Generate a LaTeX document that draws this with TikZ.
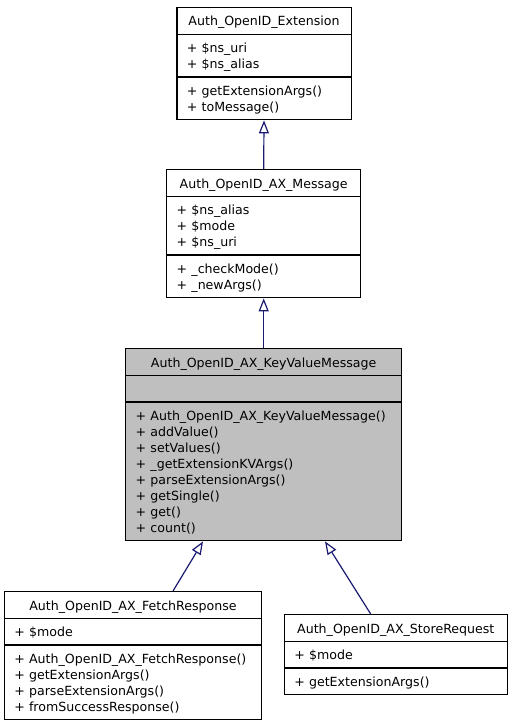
\documentclass[tikz,border=0pt]{standalone}
\usepackage{fontspec}
\setmainfont{DejaVu Sans}
\usepackage{tikz}
\usetikzlibrary{arrows.meta,calc,shapes.multipart}
\definecolor{edgeblue}{HTML}{191970}
\definecolor{kvgray}{HTML}{BFBFBF}
\newcommand{\ustrut}{\rule[-3pt]{0pt}{16pt}}
\newcommand{\uhead}[1]{\makebox[\linewidth]{\ustrut #1}}

\begin{document}
\begin{tikzpicture}[x=1pt,y=-1pt,
  umlclass/.style={rectangle split, rectangle split parts=3, draw, line width=1.3pt,
    anchor=north, inner xsep=10pt, inner ysep=4.7pt, align=left,
    font=\fontsize{12.6}{16}\selectfont},
  inherit/.style={draw=edgeblue, line width=1.2pt, -{Triangle[open,length=13pt,width=10pt]}}]
\useasboundingbox (0,0) rectangle (512,725);
\node[umlclass, text width=154.3pt] (ext) at (264,7) {
\uhead{Auth\_OpenID\_Extension}
\nodepart{two}\ustrut + \$ns\_uri\\
\ustrut + \$ns\_alias
\nodepart{three}\ustrut + getExtensionArgs()\\
\ustrut + toMessage()};
\node[umlclass, text width=174pt] (msg) at (263.7,169) {
\uhead{Auth\_OpenID\_AX\_Message}
\nodepart{two}\ustrut + \$ns\_alias\\
\ustrut + \$mode\\
\ustrut + \$ns\_uri
\nodepart{three}\ustrut + \_checkMode()\\
\ustrut + \_newArgs()};
\node[umlclass, fill=kvgray, text width=256pt] (kv) at (263.7,348) {
\uhead{Auth\_OpenID\_AX\_KeyValueMessage}
\nodepart{two}\ustrut
\nodepart{three}\ustrut + Auth\_OpenID\_AX\_KeyValueMessage()\\
\ustrut + addValue()\\
\ustrut + setValues()\\
\ustrut + \_getExtensionKVArgs()\\
\ustrut + parseExtensionArgs()\\
\ustrut + getSingle()\\
\ustrut + get()\\
\ustrut + count()};
\node[umlclass, text width=237.4pt] (fetch) at (133,591) {
\uhead{Auth\_OpenID\_AX\_FetchResponse}
\nodepart{two}\ustrut + \$mode
\nodepart{three}\ustrut + Auth\_OpenID\_AX\_FetchResponse()\\
\ustrut + getExtensionArgs()\\
\ustrut + parseExtensionArgs()\\
\ustrut + fromSuccessResponse()};
\node[umlclass, text width=203pt] (store) at (395.8,614) {
\uhead{Auth\_OpenID\_AX\_StoreRequest}
\nodepart{two}\ustrut + \$mode
\nodepart{three}\ustrut + getExtensionArgs()};
\draw[inherit] (msg.north) -- (ext.south);
\draw[inherit] (kv.north) -- (msg.south);
\draw[inherit] ($(fetch.north)+(40,0)$) -- ($(kv.south)+(-60.7,0)$);
\draw[inherit] ($(store.north)+(-25.1,0)$) -- ($(kv.south)+(61.3,0)$);
\end{tikzpicture}
\end{document}
